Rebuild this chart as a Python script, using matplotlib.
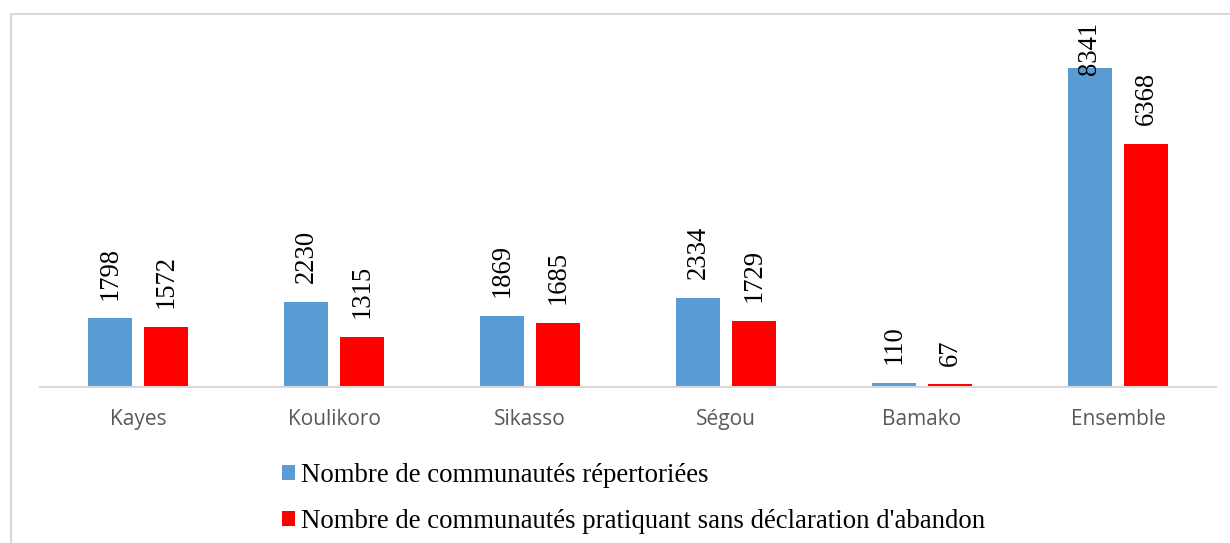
import matplotlib
matplotlib.use("Agg")
import matplotlib.pyplot as plt
import numpy as np
from matplotlib.patches import Rectangle

categories = ["Kayes", "Koulikoro", "Sikasso", "Ségou", "Bamako", "Ensemble"]
repertoriees = [1798, 2230, 1869, 2334, 110, 8341]
sans_declaration = [1572, 1315, 1685, 1729, 67, 6368]
series_names = ["Nombre de communautés répertoriées",
                "Nombre de communautés pratiquant sans déclaration d'abandon"]

W, H = 1230, 543
fig = plt.figure(figsize=(W / 100, H / 100), dpi=100)
fig.patch.set_facecolor("white")

# outer chart frame (only left and top visible)
fig.add_artist(Rectangle((11 / W, -0.1), 1.2, (H - 14) / H + 0.1, transform=fig.transFigure,
                         fill=False, edgecolor="#d9d9d9", linewidth=1.5))

ax = fig.add_axes([40 / W, (H - 387) / H, (1216 - 40) / W, (387 - 43) / H])
x = np.arange(len(categories))
bw = 0.2245
off = 0.143
colors = ["#5B9BD5", "#FF0000"]
b1 = ax.bar(x - off, repertoriees, bw, color=colors[0], label=series_names[0])
b2 = ax.bar(x + off, sans_declaration, bw, color=colors[1], label=series_names[1])

ax.set_xlim(-0.5, len(categories) - 0.5)
ax.set_ylim(0, 9000)
for s in ["top", "right", "left"]:
    ax.spines[s].set_visible(False)
ax.spines["bottom"].set_color("#d9d9d9")
ax.spines["bottom"].set_linewidth(1.5)
ax.set_yticks([])
ax.set_xticks(x)
ax.set_xticklabels(categories, fontsize=15, color="#595959", family="Open Sans")
ax.tick_params(axis="x", length=0, pad=16)

pad = 490
cap = 8157
for xs, vals in [(x - off, repertoriees), (x + off, sans_declaration)]:
    for xi, v in zip(xs, vals):
        ax.text(xi, min(v + pad, cap), str(v), rotation=90, ha="center", va="bottom",
                fontsize=19.2, family="Liberation Serif", color="black", clip_on=False)

leg = fig.legend(handles=[b1, b2], labels=series_names, loc="upper left",
                 bbox_to_anchor=(282 / W, (H - 463) / H), frameon=False,
                 prop={"family": "Liberation Serif", "size": 19.3},
                 handlelength=0.485, handleheight=0.485, handletextpad=0.22,
                 labelspacing=0.78, borderaxespad=0, borderpad=0)

fig.savefig("out.png", dpi=100)
